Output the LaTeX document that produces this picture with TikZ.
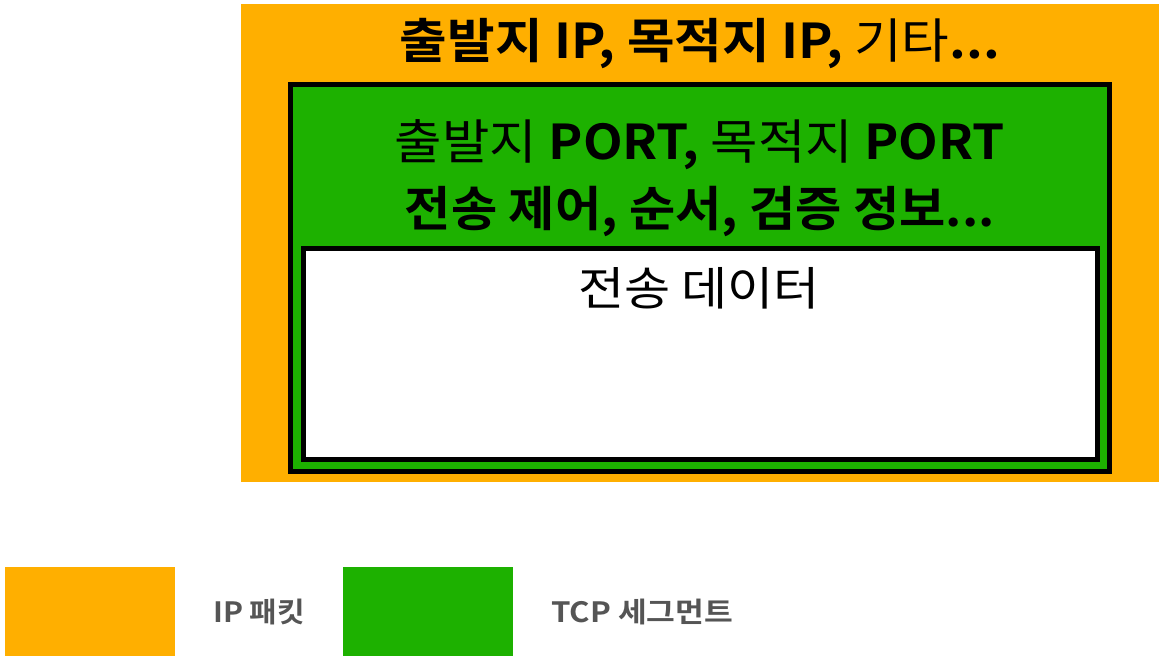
\documentclass[tikz,border=0pt]{standalone}
\usepackage{fontspec}
\usepackage{graphicx}
\setmainfont{Noto Sans CJK KR}
\newfontfamily\krb{Noto Sans CJK KR Bold}
\definecolor{ipor}{HTML}{FFAF00}
\definecolor{tcpg}{HTML}{1DB100}
\definecolor{leggray}{HTML}{555555}
\newcommand\fitto[2]{\resizebox{#1}{\height}{#2}}
\begin{document}
\begin{tikzpicture}[x=1pt,y=-1pt,
  lbl/.style={inner sep=0pt,anchor=center},
  legtxt/.style={inner sep=0pt,anchor=west,text=leggray,font=\krb\fontsize{28}{30}\selectfont}]
\useasboundingbox (0,0) rectangle (1167,661);
% IP packet
\fill[ipor] (241,4) rectangle (1159,482);
\coordinate (ipc) at (700,0);
% TCP segment
\draw[line width=5pt,fill=tcpg] (290.5,84.5) rectangle (1109.5,471.5);
% data
\draw[line width=5pt,fill=white] (303.5,248.5) rectangle (1097.5,459.5);
\node[lbl,font=\fontsize{48}{50}\selectfont] (iphdr) at (700,44)
  {\fitto{600pt}{{\krb 출발지 IP, 목적지 IP,} 기타{\krb ...}}};
\node[lbl,font=\fontsize{48}{50}\selectfont] (tcphdr1) at (700,145)
  {\fitto{610pt}{출발지 {\krb PORT,} 목적지 {\krb PORT}}};
\node[lbl,font=\fontsize{48}{50}\selectfont] (tcphdr2) at (700,211)
  {\fitto{590pt}{\krb 전송 제어, 순서, 검증 정보...}};
\node[lbl,font=\fontsize{46}{48}\selectfont] (data) at (699,288)
  {\fitto{242pt}{전송 데이터}};
% legend
\fill[ipor] (5,567) rectangle (175,656);
\node[legtxt] (legip) at (213,612) {\fitto{92pt}{IP 패킷}};
\fill[tcpg] (343,567) rectangle (513,656);
\node[legtxt] (legtcp) at (551,612) {\fitto{182pt}{TCP 세그먼트}};
\end{tikzpicture}
\end{document}
